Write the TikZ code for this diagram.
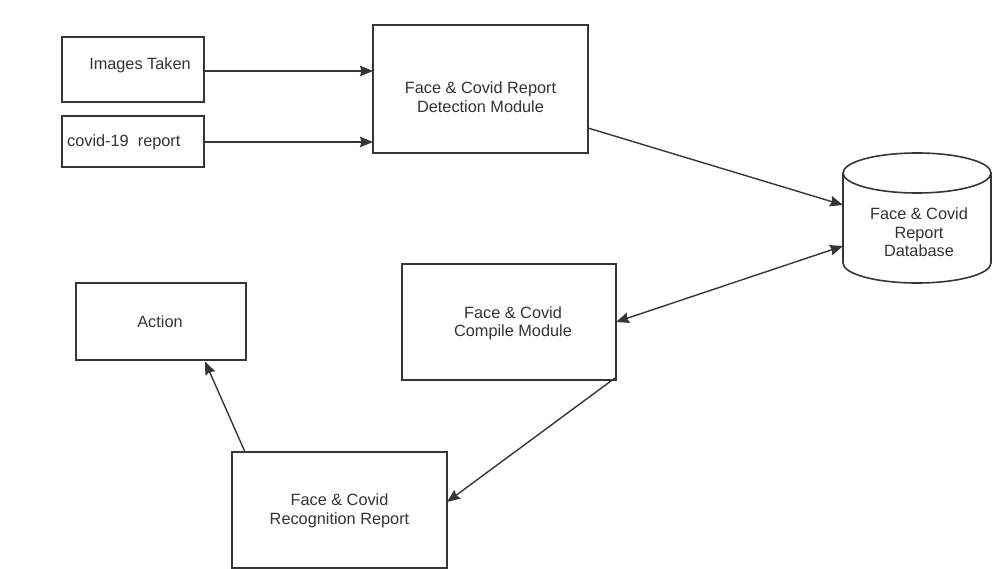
\documentclass[tikz,border=0pt]{standalone}
\usepackage{fontspec}
\setmainfont{Liberation Sans}
\usetikzlibrary{arrows.meta}
\definecolor{lc}{HTML}{363636}
\definecolor{tc}{HTML}{333333}
\tikzset{
  box/.style={draw=lc, line width=1.6pt, inner sep=0pt, outer sep=0pt, anchor=north west},
  txt/.style={inner sep=0pt, text=tc, align=center, font=\fontsize{16.3}{18.5}\selectfont},
  conn/.style={draw=lc, line width=1.4pt, -{Stealth[length=13pt,width=10.5pt,inset=1.5pt]}},
  conn2/.style={draw=lc, line width=1.4pt, {Stealth[length=13pt,width=10.5pt,inset=1.5pt]}-{Stealth[length=13pt,width=10.5pt,inset=1.5pt]}}
}
\begin{document}
\begin{tikzpicture}[x=1pt, y=-1pt]
\useasboundingbox (0,0) rectangle (992,569);
% boxes
\node[box, minimum width=142pt, minimum height=65pt] (img) at (62,37) {};
\node[box, minimum width=142pt, minimum height=51pt] (cov) at (62,116) {};
\node[box, minimum width=215pt, minimum height=128pt] (det) at (373,25) {};
\node[box, minimum width=214pt, minimum height=116pt] (cmp) at (402,264) {};
\node[box, minimum width=170pt, minimum height=77pt] (act) at (76,283) {};
\node[box, minimum width=215pt, minimum height=116pt] (rec) at (232,452) {};
% texts
\node[txt] (imgt) at ([xshift=7pt,yshift=4.5pt]img.center) {Images Taken};
\node[txt, anchor=west] (covt) at ([xshift=5pt,yshift=-0.5pt]cov.west) {covid-19\ \ report};
\node[txt] (dett) at ([yshift=-8pt]det.center) {Face \& Covid Report\\Detection Module};
\node[txt] (cmpt) at ([xshift=4pt,yshift=-1.5pt]cmp.center) {Face \& Covid\\Compile Module};
\node[txt] (actt) at ([xshift=-1pt,yshift=-0.5pt]act.center) {Action};
\node[txt] (rect) at ([yshift=-1pt]rec.center) {Face \& Covid\\Recognition Report};
% database cylinder
\coordinate (dbtl) at (843,173);
\coordinate (dbtr) at (991,173);
\coordinate (dbbl) at (843,263);
\coordinate (dbbr) at (991,263);
\draw[lc, line width=1.6pt] (917,173) ellipse [x radius=74pt, y radius=20pt];
\draw[lc, line width=1.6pt] (dbtl) -- (dbbl) arc[start angle=180, end angle=360, x radius=74pt, y radius=20pt] -- (dbtr);
\coordinate (dbin1) at (843,205);
\coordinate (dbin2) at (843,246);
\node[txt] (dbt) at (919,232.5) {Face \& Covid\\Report\\Database};
% connectors
\draw[conn] ([yshift=-1.5pt]img.east) -- ([yshift=-1.5pt]img.east -| det.west);
\draw[conn] ([yshift=-0.5pt]cov.east) -- ([yshift=-0.5pt]cov.east -| det.west);
\draw[conn] ([yshift=-39pt]det.east) -- (dbin1);
\draw[conn2] (cmp.east) -- (dbin2);
\draw[conn] ([xshift=-1pt,yshift=2pt]cmp.south east) -- ([yshift=8pt]rec.east);
\draw[conn] ([xshift=13pt]rec.north west) -- ([xshift=44pt,yshift=-1.5pt]act.south);
\end{tikzpicture}
\end{document}
